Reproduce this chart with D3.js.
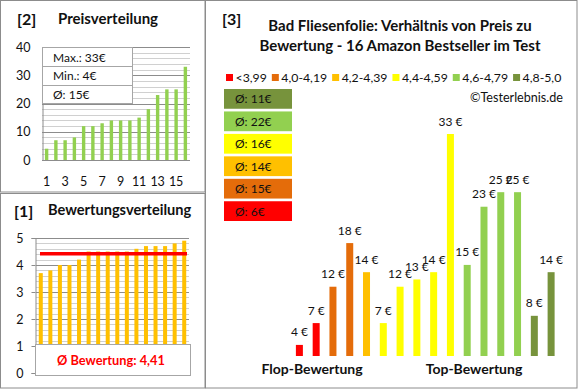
<!DOCTYPE html>
<html>
<head>
<meta charset="utf-8">
<script src="https://cdn.jsdelivr.net/npm/d3@7"></script>
<style>
  html, body { margin: 0; padding: 0; background: #fff; }
  svg { display: block; font-family: Lato, "Noto Sans", sans-serif; }
</style>
</head>
<body>
<svg id="chart" width="580" height="390"></svg>
<script>
// ---------- DATA ----------
const productRatings = [3.7, 3.8, 4.0, 4.0, 4.2, 4.5, 4.5, 4.5, 4.5, 4.5, 4.6, 4.7, 4.7, 4.7, 4.8, 4.9];
const productPrices  = [4, 7, 12, 18, 14, 7, 12, 13, 14, 33, 15, 23, 25, 25, 8, 14];
const classLabels    = ["<3,99", "4,0-4,19", "4,2-4,39", "4,4-4,59", "4,6-4,79", "4,8-5,0"];
const classBounds    = [4.0, 4.2, 4.4, 4.6, 4.8];
const priceTicks     = [0, 10, 20, 30, 40];
const ratingTicks    = [0, 1, 2, 3, 4, 5];
const rankTickLabels = [1, 3, 5, 7, 9, 11, 13, 15];

// ---------- STYLE ----------
const classColors = ["#FF0000", "#E46C0A", "#FFC000", "#FFFF00", "#92D050", "#77933C"];
const border = "#8C8C8C";
const minorGrid = "#D0D0D0";
const majorGrid = "#8C8C8C";
const txt = "#111";

const svg = d3.select("#chart");
const n = productPrices.length;
const ranks = d3.range(1, n + 1);
const classOf = v => d3.bisectRight(classBounds, v);

// panel frames
svg.append("rect").attr("x", 0.5).attr("y", 0.5).attr("width", 204.5).attr("height", 191.5)
  .attr("fill", "none").attr("stroke", border);
svg.append("rect").attr("x", 0.5).attr("y", 193.5).attr("width", 204.5).attr("height", 194.5)
  .attr("fill", "none").attr("stroke", border);
svg.append("rect").attr("x", 205.5).attr("y", 0.5).attr("width", 371.5).attr("height", 387.5)
  .attr("fill", "none").attr("stroke", border);

// ================= [2] Preisverteilung =================
{
  const g = svg.append("g");
  const sortedPrices = productPrices.slice().sort((a, b) => a - b);
  const x = d3.scaleBand().domain(ranks).range([42, 190]);
  const y = d3.scaleLinear().domain([0, 40]).range([160, 47]);

  g.append("text").attr("x", 17).attr("y", 25).attr("font-size", 16).attr("font-weight", "bold")
    .attr("fill", txt).text("[2]");
  g.append("text").attr("x", 58).attr("y", 24).attr("font-size", 15).attr("font-weight", "bold")
    .attr("fill", txt).text("Preisverteilung");

  // gridlines every 2
  d3.range(2, 41, 2).forEach(v => {
    g.append("line").attr("x1", 42).attr("x2", 190)
      .attr("y1", Math.round(y(v)) + 0.5).attr("y2", Math.round(y(v)) + 0.5)
      .attr("stroke", v % 10 === 0 ? majorGrid : minorGrid).attr("stroke-width", 1);
  });

  const yAxis = g.append("g").attr("transform", "translate(42.5,0)")
    .call(d3.axisLeft(y).tickValues(priceTicks).tickSize(0).tickPadding(12));
  yAxis.select(".domain").attr("stroke", majorGrid);
  yAxis.selectAll("text").attr("font-size", 12.5).attr("fill", txt).attr("font-family", "Lato");

  g.append("line").attr("x1", 42).attr("x2", 190).attr("y1", y(0) + 0.5).attr("y2", y(0) + 0.5)
    .attr("stroke", majorGrid);

  // info box
  const stats = [
    "Max.: " + d3.max(sortedPrices) + "€",
    "Min.: " + d3.min(sortedPrices) + "€",
    "Ø: " + Math.round(d3.mean(sortedPrices)) + "€"
  ];
  g.append("rect").attr("x", 42.5).attr("y", 47.5).attr("width", 90).attr("height", 56)
    .attr("fill", "#fff").attr("stroke", "#A6A6A6");
  [66.5, 85.5].forEach(yy => g.append("line").attr("x1", 42.5).attr("x2", 132.5)
    .attr("y1", yy).attr("y2", yy).attr("stroke", "#A6A6A6"));
  stats.forEach((s, i) => g.append("text").attr("x", 53).attr("y", 61.5 + i * 18.7)
    .attr("font-size", 12).attr("fill", txt).text(s));

  g.selectAll(".pbar").data(sortedPrices).join("rect")
    .attr("x", (d, i) => x(i + 1) + x.bandwidth() / 2 - 1.7)
    .attr("width", 3.4)
    .attr("y", d => y(d)).attr("height", d => y(0) - y(d))
    .attr("fill", classColors[4]);

  g.selectAll(".xl").data(rankTickLabels).join("text")
    .attr("x", d => x(d) + x.bandwidth() / 2).attr("y", 185.5)
    .attr("text-anchor", "middle").attr("font-size", 12.5).attr("fill", txt).text(d => d);
}

// ================= [1] Bewertungsverteilung =================
{
  const g = svg.append("g");
  const x = d3.scaleBand().domain(ranks).range([36, 189]);
  const y = d3.scaleLinear().domain([0, 5]).range([373, 238]);
  const avg = d3.mean(productRatings);

  g.append("text").attr("x", 14).attr("y", 217).attr("font-size", 16).attr("font-weight", "bold")
    .attr("fill", txt).text("[1]");
  g.append("text").attr("x", 48).attr("y", 215).attr("font-size", 14.6).attr("font-weight", "bold")
    .attr("fill", txt).text("Bewertungsverteilung");

  d3.range(1, 26).forEach(k => {
    const v = k * 0.2;
    g.append("line").attr("x1", 36).attr("x2", 189)
      .attr("y1", Math.round(y(v)) + 0.5).attr("y2", Math.round(y(v)) + 0.5)
      .attr("stroke", k % 5 === 0 ? majorGrid : minorGrid);
  });

  const yAxis = g.append("g").attr("transform", "translate(35.5,0)")
    .call(d3.axisLeft(y).tickValues(ratingTicks).tickFormat(d3.format("d")).tickSize(4).tickPadding(8));
  yAxis.select(".domain").attr("stroke", majorGrid);
  yAxis.selectAll("line").attr("stroke", majorGrid);
  yAxis.selectAll("text").attr("font-size", 12.5).attr("fill", txt).attr("font-family", "Lato");

  g.selectAll(".rbar").data(productRatings).join("rect")
    .attr("x", (d, i) => x(i + 1) + x.bandwidth() / 2 - 2)
    .attr("width", 4)
    .attr("y", d => y(d)).attr("height", d => y(0) - y(d))
    .attr("fill", classColors[2]);

  g.append("line").attr("x1", 40).attr("x2", 187).attr("y1", y(avg)).attr("y2", y(avg))
    .attr("stroke", "#FF0000").attr("stroke-width", 3.5);

  g.append("rect").attr("x", 35.5).attr("y", 344.5).attr("width", 155).attr("height", 31)
    .attr("fill", "#fff").attr("stroke", "#A6A6A6");
  g.append("text").attr("x", 111).attr("y", 365).attr("text-anchor", "middle")
    .attr("font-size", 12.8).attr("font-weight", "bold").attr("fill", "#FF0000")
    .text("Ø Bewertung: " + d3.format(".2f")(avg).replace(".", ","));
}

// ================= [3] Preis zu Bewertung =================
{
  const g = svg.append("g");
  g.append("text").attr("x", 222).attr("y", 25).attr("font-size", 16).attr("font-weight", "bold")
    .attr("fill", txt).text("[3]");
  g.append("text").attr("x", 400).attr("y", 31).attr("text-anchor", "middle").attr("font-size", 15)
    .attr("font-weight", "bold").attr("fill", txt).text("Bad Fliesenfolie: Verhältnis von Preis zu");
  g.append("text").attr("x", 400).attr("y", 51).attr("text-anchor", "middle").attr("font-size", 15)
    .attr("font-weight", "bold").attr("fill", txt).text("Bewertung - 16 Amazon Bestseller im Test");

  // legend
  let lx = 226;
  classLabels.forEach((lab, i) => {
    g.append("rect").attr("x", lx).attr("y", 74).attr("width", 7).attr("height", 7).attr("fill", classColors[i]);
    const t = g.append("text").attr("x", lx + 9.5).attr("y", 82).attr("font-size", 12.3)
      .attr("fill", txt).text(lab);
    lx += 9.5 + t.node().getComputedTextLength() + 5;
  });

  g.append("text").attr("x", 563).attr("y", 102).attr("text-anchor", "end").attr("font-size", 12.6)
    .attr("fill", txt).text("©Testerlebnis.de");

  // average boxes (highest class on top)
  const classAvg = classLabels.map((_, c) =>
    Math.round(d3.mean(productPrices.filter((p, i) => classOf(productRatings[i]) === c))));
  const boxOrder = d3.range(classLabels.length).reverse();
  const by = d3.scaleBand().domain(boxOrder).range([89, 221]).paddingInner(0.12);
  boxOrder.forEach(c => {
    g.append("rect").attr("x", 224).attr("y", by(c)).attr("width", 68).attr("height", by.bandwidth())
      .attr("fill", classColors[c]);
    g.append("text").attr("x", 235).attr("y", by(c) + by.bandwidth() / 2 + 4.5).attr("font-size", 12)
      .attr("fill", txt).text("Ø: " + classAvg[c] + "€");
  });

  // bars
  const x = d3.scaleBand().domain(ranks).range([291, 559.5]);
  const y = d3.scaleLinear().domain([0, 33]).range([374, 134]);
  const base = 356;
  g.selectAll(".mbar").data(productPrices).join("rect")
    .attr("x", (d, i) => x(i + 1) + x.bandwidth() / 2 - 3.5)
    .attr("width", 7)
    .attr("y", d => y(d)).attr("height", d => base - y(d))
    .attr("fill", (d, i) => classColors[classOf(productRatings[i])]);

  g.selectAll(".mlab").data(productPrices).join("text")
    .attr("x", (d, i) => x(i + 1) + x.bandwidth() / 2)
    .attr("y", d => y(d) - 8.5)
    .attr("text-anchor", "middle").attr("font-size", 12).attr("fill", txt)
    .text(d => d + " €");

  g.append("text").attr("x", 312).attr("y", 374).attr("text-anchor", "middle").attr("font-size", 14)
    .attr("font-weight", "bold").attr("fill", txt).text("Flop-Bewertung");
  g.append("text").attr("x", 474).attr("y", 374).attr("text-anchor", "middle").attr("font-size", 14)
    .attr("font-weight", "bold").attr("fill", txt).text("Top-Bewertung");
}
</script>
</body>
</html>
